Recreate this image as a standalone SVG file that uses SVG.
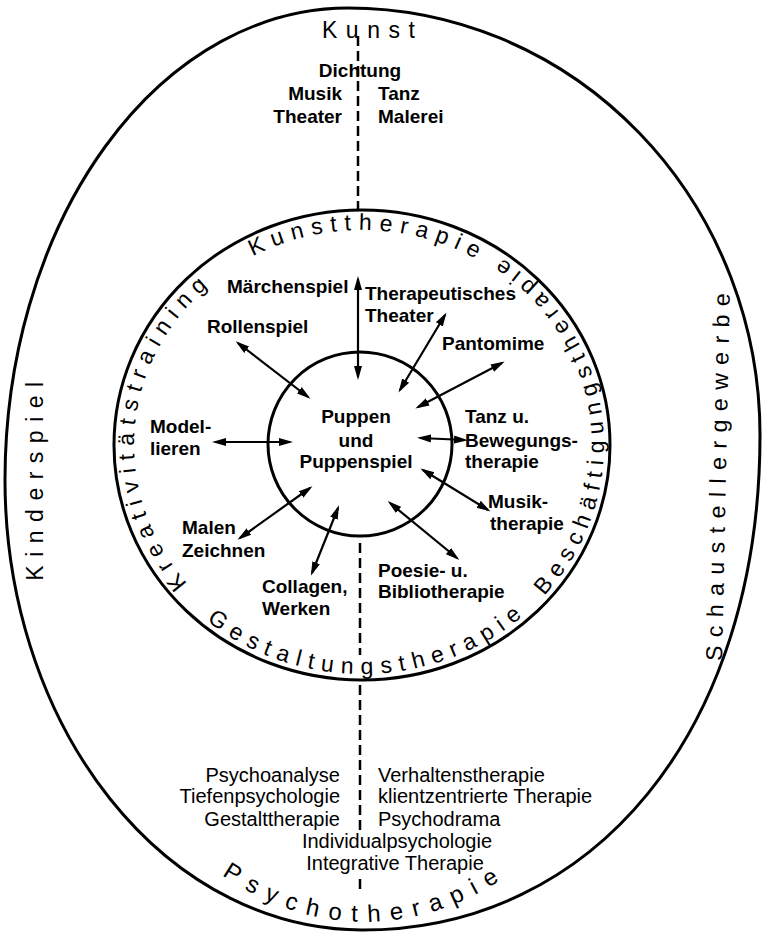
<svg xmlns="http://www.w3.org/2000/svg" width="766" height="933" viewBox="0 0 766 933">
<style>
.lb{font-family:"Liberation Sans",Arial,sans-serif;font-weight:bold;font-size:19px;fill:#000}
.ls{font-family:"Liberation Sans",Arial,sans-serif;font-size:20px;fill:#000}
.sp{font-family:"Liberation Sans",Arial,sans-serif;font-size:23px;letter-spacing:8.5px;fill:#000}
.rg{font-family:"Liberation Sans",Arial,sans-serif;font-size:23px;letter-spacing:7.5px;fill:#000}
.ol{fill:none;stroke:#000;stroke-width:3}
.ds{stroke:#000;stroke-width:2.5;stroke-dasharray:10 5;fill:none}
.ar{stroke:#000;stroke-width:2.2;fill:none}
</style>
<defs>
<marker id="ah" viewBox="0 -5 14 10" refX="11" refY="0" markerWidth="14" markerHeight="10" markerUnits="userSpaceOnUse" orient="auto-start-reverse"><path d="M0,-4 L14,0 L0,4 Z" fill="#000"/></marker>
<path id="cw" d="M200.8,597 A228,215 0 0 1 200.8,293 A228,215 0 0 1 523.2,293"/>
<path id="ccw" d="M190.9,606.9 A242,229 0 0 0 533.1,606.9 A242,229 0 0 0 533.1,283.1 A242,229 0 0 0 404,219.5"/>
<path id="psy" d="M170,830 A320,443 0 0 0 560,830"/>
</defs>
<rect width="766" height="933" fill="#fff"/>

<g id="outer">
<path class="ol" d="M348,8 A412,427 0 0 1 760,435 C760,732 593,930 362,930 A357,450 0 0 1 5,480 A343,472 0 0 1 348,8 Z"/>
<text class="sp" x="322" y="38">Kunst</text>
<text class="sp" transform="translate(43,477) rotate(-90)" text-anchor="middle">Kinderspiel</text>
<text class="sp" transform="translate(726,473) rotate(-88.8)" text-anchor="middle">Schaustellergewerbe</text>
<text class="sp" text-anchor="middle" style="font-size:24px;letter-spacing:10px"><textPath href="#psy" startOffset="50%">Psychotherapie</textPath></text>
</g>

<g id="ring">
<ellipse class="ol" cx="362" cy="445" rx="248" ry="235"/>
<text class="rg"><textPath href="#cw" startOffset="19">Kreativitätstraining</textPath></text>
<text class="rg"><textPath href="#cw" startOffset="405">Kunsttherapie</textPath></text>
<text class="rg"><textPath href="#ccw" startOffset="21">Gestaltungstherapie</textPath></text>
<text class="rg" style="letter-spacing:7px"><textPath href="#ccw" startOffset="392">Beschäftigungstherapie</textPath></text>
</g>

<g id="center">
<circle class="ol" cx="360" cy="444" r="92" stroke-width="2.6"/>
<text class="lb" text-anchor="middle" x="356" y="423">Puppen</text>
<text class="lb" text-anchor="middle" x="356" y="447">und</text>
<text class="lb" text-anchor="middle" x="356" y="468">Puppenspiel</text>
</g>

<g id="kunst-list">
<text class="lb" text-anchor="middle" x="360" y="77">Dichtung</text>
<text class="lb" text-anchor="end" x="342" y="100">Musik</text>
<text class="lb" x="378" y="100">Tanz</text>
<text class="lb" text-anchor="end" x="342" y="123">Theater</text>
<text class="lb" x="378" y="123">Malerei</text>
</g>

<g id="psycho-list">
<text class="ls" text-anchor="end" x="340" y="782">Psychoanalyse</text>
<text class="ls" text-anchor="end" x="340" y="803">Tiefenpsychologie</text>
<text class="ls" text-anchor="end" x="340" y="826">Gestalttherapie</text>
<text class="ls" x="378" y="782">Verhaltenstherapie</text>
<text class="ls" x="378" y="803">klientzentrierte Therapie</text>
<text class="ls" x="378" y="826">Psychodrama</text>
<text class="ls" text-anchor="middle" x="397" y="848">Individualpsychologie</text>
<text class="ls" text-anchor="middle" x="395" y="870">Integrative Therapie</text>
</g>

<g id="maerchenspiel"><text class="lb" x="227" y="293">Märchenspiel</text></g>
<g id="theater"><text class="lb" x="365" y="300">Therapeutisches</text><text class="lb" x="365" y="322">Theater</text></g>
<g id="rollenspiel"><text class="lb" x="207" y="333">Rollenspiel</text></g>
<g id="pantomime"><text class="lb" x="442" y="350">Pantomime</text></g>
<g id="modellieren"><text class="lb" x="150" y="433">Model-</text><text class="lb" x="150" y="455">lieren</text></g>
<g id="tanz"><text class="lb" x="465" y="423">Tanz u.</text><text class="lb" x="465" y="447">Bewegungs-</text><text class="lb" x="465" y="468">therapie</text></g>
<g id="musik"><text class="lb" x="488" y="508">Musik-</text><text class="lb" x="490" y="530">therapie</text></g>
<g id="malen"><text class="lb" x="182" y="534">Malen</text><text class="lb" x="182" y="557">Zeichnen</text></g>
<g id="collagen"><text class="lb" x="262" y="593">Collagen,</text><text class="lb" x="262" y="615">Werken</text></g>
<g id="poesie"><text class="lb" x="378" y="577">Poesie- u.</text><text class="lb" x="378" y="598">Bibliotherapie</text></g>

<g id="connectors">
<path class="ds" d="M358,36 V210 M360,543 V655 M360,685 V832 M360,879 V889"/>
<g class="ar" marker-start="url(#ah)" marker-end="url(#ah)">
<line x1="358" y1="279" x2="358" y2="377"/>
<line x1="238" y1="343" x2="308" y2="397"/>
<line x1="445" y1="315" x2="400" y2="390"/>
<line x1="502" y1="363" x2="418" y2="407"/>
<line x1="215" y1="442" x2="290" y2="442"/>
<line x1="420" y1="438" x2="465" y2="440"/>
<line x1="423" y1="470" x2="488" y2="510"/>
<line x1="390" y1="503" x2="457" y2="558"/>
<line x1="338" y1="508" x2="312" y2="573"/>
<line x1="310" y1="488" x2="240" y2="538"/>
</g>
</g>
</svg>
